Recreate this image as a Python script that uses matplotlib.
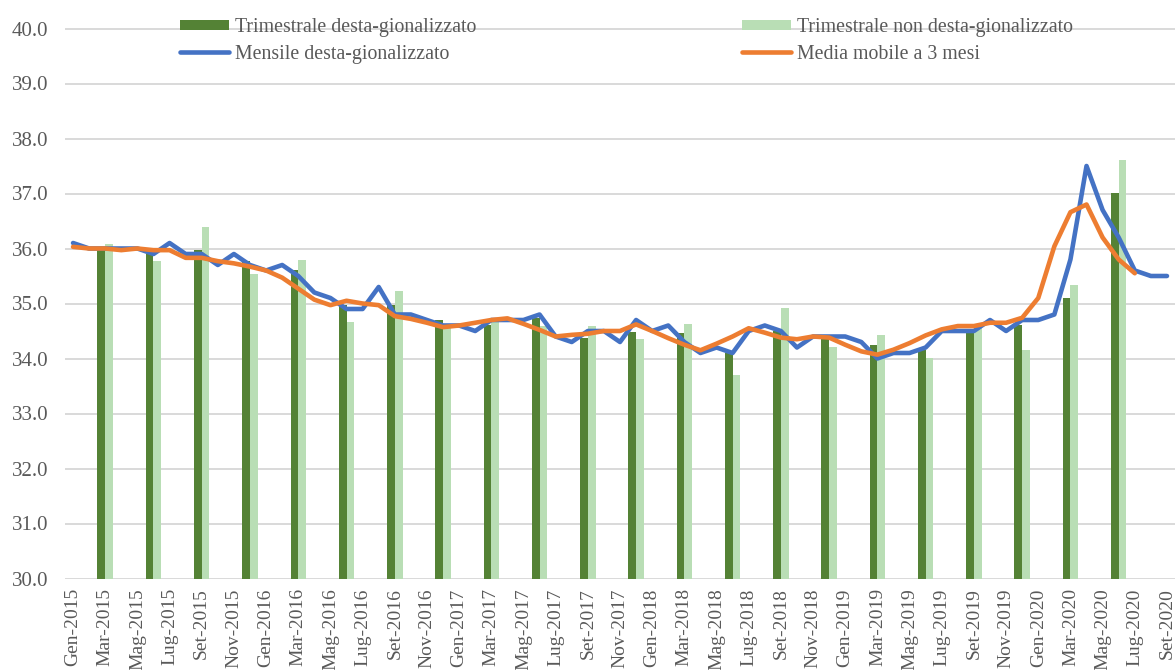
import matplotlib.pyplot as plt
from matplotlib.patches import Patch
from matplotlib.lines import Line2D

# -----------------------------------------------------
# Data
# -----------------------------------------------------

month_names = ["Gen", "Feb", "Mar", "Apr", "Mag", "Giu",
               "Lug", "Ago", "Set", "Ott", "Nov", "Dic"]
years = [2015, 2016, 2017, 2018, 2019, 2020]

# Gen-2015 ... Set-2020
months = [f"{m}-{y}" for y in years for m in month_names][:69]

# monthly deseasonalized series
mensile = [
    36.1, 36.0, 36.0, 36.0, 36.0, 35.9, 36.1, 35.9, 35.9, 35.7, 35.9, 35.7,
    35.6, 35.7, 35.5, 35.2, 35.1, 34.9, 34.9, 35.3, 34.8, 34.8, 34.7, 34.6,
    34.6, 34.5, 34.7, 34.7, 34.7, 34.8, 34.4, 34.3, 34.5, 34.5, 34.3, 34.7,
    34.5, 34.6, 34.3, 34.1, 34.2, 34.1, 34.5, 34.6, 34.5, 34.2, 34.4, 34.4,
    34.4, 34.3, 34.0, 34.1, 34.1, 34.2, 34.5, 34.5, 34.5, 34.7, 34.5, 34.7,
    34.7, 34.8, 35.8, 37.5, 36.7, 36.2, 35.6, 35.5, 35.5,
]

# 3 month moving average (Gen-2015 ... Lug-2020)
media_mobile = [
    36.03, 36.0, 36.0, 35.97, 36.0, 35.97, 35.97, 35.83, 35.83, 35.77, 35.73, 35.67,
    35.6, 35.47, 35.27, 35.07, 34.97, 35.05, 35.0, 34.97, 34.77, 34.72, 34.65, 34.57,
    34.6, 34.65, 34.7, 34.73, 34.63, 34.52, 34.4, 34.43, 34.45, 34.5, 34.5, 34.62,
    34.5, 34.37, 34.25, 34.15, 34.27, 34.4, 34.55, 34.47, 34.38, 34.35, 34.4, 34.38,
    34.25, 34.13, 34.07, 34.16, 34.28, 34.42, 34.53, 34.59, 34.59, 34.65, 34.65, 34.74,
    35.1, 36.04, 36.66, 36.8, 36.2, 35.8, 35.55,
]

# quarterly values, placed on the last month of each quarter (Mar-2015 ... Giu-2020)
quarter_months = list(range(2, 66, 3))
trim_desta = [
    36.0, 35.9, 35.97, 35.78, 35.6, 34.98, 34.98, 34.7, 34.6, 34.73, 34.38,
    34.48, 34.47, 34.1, 34.5, 34.35, 34.25, 34.16, 34.47, 34.6, 35.1, 37.0,
]
trim_non_desta = [
    36.08, 35.77, 36.4, 35.54, 35.8, 34.66, 35.22, 34.57, 34.68, 34.59, 34.59,
    34.35, 34.62, 33.7, 34.92, 34.2, 34.42, 34.0, 34.58, 34.15, 35.33, 37.6,
]

# -----------------------------------------------------
# Style
# -----------------------------------------------------

plt.rcParams["font.family"] = ["Liberation Serif", "DejaVu Serif"]

dark_green = "#548235"
light_green = "#B9DEB5"
blue = "#4472C4"
orange = "#ED7D31"
text_color = "#595959"
grid_color = "#D9D9D9"

fig = plt.figure(figsize=(11.75, 6.7), dpi=100)
ax = fig.add_axes([65 / 1175, 1 - 578.5 / 670, 1 - 65 / 1175, (578.5 - 28.5) / 670])

# -----------------------------------------------------
# Bars and lines
# -----------------------------------------------------

bar_w = 0.48
x_dark = [q - bar_w / 2 for q in quarter_months]
x_light = [q + bar_w / 2 for q in quarter_months]

ax.bar(x_dark, [v - 30 for v in trim_desta], bottom=30, width=bar_w,
       color=dark_green, zorder=2)
ax.bar(x_light, [v - 30 for v in trim_non_desta], bottom=30, width=bar_w,
       color=light_green, zorder=2)

ax.plot(range(len(mensile)), mensile, color=blue, linewidth=3.3,
        solid_capstyle="round", solid_joinstyle="round", zorder=3)
ax.plot(range(len(media_mobile)), media_mobile, color=orange, linewidth=3.3,
        solid_capstyle="round", solid_joinstyle="round", zorder=4)

# -----------------------------------------------------
# Axes
# -----------------------------------------------------

ax.set_xlim(-0.5, len(months) - 0.5)
ax.set_ylim(30, 40)

ax.set_yticks([30 + i for i in range(11)])
ax.set_yticklabels([f"{30 + i:.1f}" for i in range(11)])
ax.set_xticks(range(0, len(months), 2))
ax.set_xticklabels(months[::2], rotation=90)

ax.tick_params(axis="y", length=0, pad=12, labelsize=15, labelcolor=text_color)
ax.tick_params(axis="x", length=0, pad=7, labelsize=14, labelcolor=text_color)

ax.grid(axis="y", color=grid_color, linewidth=1.4, zorder=0)
ax.set_axisbelow(True)
for side in ["top", "right", "left", "bottom"]:
    ax.spines[side].set_visible(False)

# -----------------------------------------------------
# Legend
# -----------------------------------------------------

handles = [
    Patch(facecolor=dark_green),
    Line2D([0], [0], color=blue, linewidth=3.3, solid_capstyle="round"),
    Patch(facecolor=light_green),
    Line2D([0], [0], color=orange, linewidth=3.3, solid_capstyle="round"),
]
labels = [
    "Trimestrale desta-gionalizzato",
    "Mensile desta-gionalizzato",
    "Trimestrale non desta-gionalizzato",
    "Media mobile a 3 mesi",
]

leg = fig.legend(handles, labels, loc="upper left",
                 bbox_to_anchor=(180 / 1175, 1 - 18 / 670),
                 ncol=2, frameon=False, fontsize=14.3, borderpad=0,
                 handlelength=2.45, handleheight=0.45, handletextpad=0.3,
                 labelspacing=0.38, columnspacing=13.4, borderaxespad=0)
for t in leg.get_texts():
    t.set_color(text_color)

plt.savefig("out.png", dpi=100)
plt.close()
